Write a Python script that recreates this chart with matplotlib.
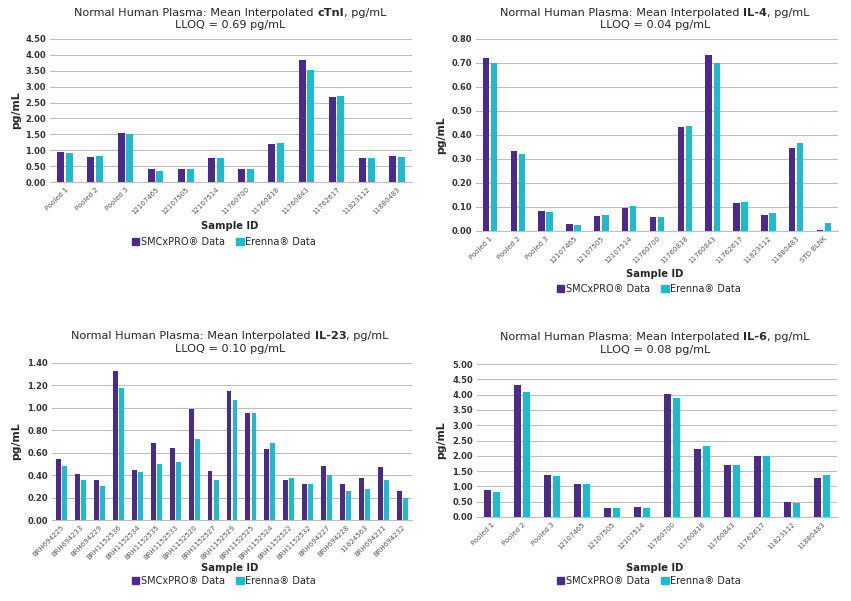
import matplotlib
matplotlib.use('Agg')
from matplotlib import pyplot as plt
from matplotlib.patches import Patch
import numpy as np

# ---- data ----
ctni_ids = ['Pooled 1', 'Pooled 2', 'Pooled 3', '12107465', '12107505', '12107514',
            '11760700', '11760818', '11760843', '11762617', '11823112', '11880483']
ctni_smc = [0.95, 0.78, 1.54, 0.42, 0.40, 0.76, 0.40, 1.20, 3.85, 2.68, 0.76, 0.82]
ctni_ere = [0.92, 0.82, 1.50, 0.36, 0.40, 0.75, 0.41, 1.23, 3.52, 2.72, 0.75, 0.80]

il4_ids = ctni_ids + ['STD BLNK']
il4_smc = [0.720, 0.335, 0.085, 0.030, 0.064, 0.095, 0.057, 0.435, 0.733, 0.116, 0.068, 0.347, 0.005]
il4_ere = [0.702, 0.320, 0.080, 0.027, 0.068, 0.104, 0.060, 0.438, 0.702, 0.122, 0.076, 0.367, 0.035]

il23_ids = ['BRH694225', 'BRH694233', 'BRH694229', 'BRH1152536', 'BRH1152534', 'BRH1152535',
            'BRH1152533', 'BRH1152520', 'BRH1152527', 'BRH1152529', 'BRH1152525', 'BRH1152524',
            'BRH1152522', 'BRH1152532', 'BRH694227', 'BRH694228', '11624563', 'BRH694231',
            'BRH694232']
il23_smc = [0.545, 0.41, 0.355, 1.325, 0.45, 0.685, 0.64, 0.99, 0.44, 1.15, 0.95, 0.635,
            0.36, 0.325, 0.48, 0.32, 0.375, 0.475, 0.255]
il23_ere = [0.485, 0.36, 0.305, 1.18, 0.43, 0.495, 0.52, 0.72, 0.36, 1.07, 0.955, 0.69,
            0.375, 0.325, 0.40, 0.255, 0.28, 0.355, 0.20]

il6_ids = ['Pooled 1', 'Pooled 2', 'Pooled 3', '12107465', '12107505', '12107514',
           '11760700', '11760818', '11760843', '11762617', '11823112', '11880483']
il6_smc = [0.88, 4.30, 1.36, 1.07, 0.31, 0.33, 4.02, 2.22, 1.70, 1.98, 0.49, 1.29]
il6_ere = [0.82, 4.10, 1.34, 1.08, 0.29, 0.31, 3.88, 2.32, 1.70, 1.99, 0.46, 1.36]

PURPLE = '#4B2A8A'
CYAN = '#1DBBCB'
TXT = '#262626'
W, H = 851, 601

fig = plt.figure(figsize=(W / 100, H / 100), dpi=100)


def px(x, y):
    return x / W, 1 - y / H


def add_panel(x0, x1, ytop, ybot, ids, smc, ere, ymax, step, ylab_x, bw=0.23):
    ax = fig.add_axes([x0 / W, 1 - ybot / H, (x1 - x0) / W, (ybot - ytop) / H])
    x = np.arange(len(ids))
    gap = 0.03
    ax.bar(x - bw / 2 - gap, smc, bw, color=PURPLE, zorder=3)
    ax.bar(x + bw / 2 + gap, ere, bw, color=CYAN, zorder=3)
    ax.set_xlim(-0.5, len(ids) - 0.5)
    ax.set_ylim(0, ymax)
    ax.set_yticks(np.arange(0, ymax + step / 2, step))
    ax.yaxis.set_major_formatter(matplotlib.ticker.FormatStrFormatter('%.2f'))
    ax.grid(axis='y', color='#BFBFBF', lw=0.8, zorder=0)
    for s in ['top', 'right', 'left']:
        ax.spines[s].set_visible(False)
    ax.spines['bottom'].set_color('#BFBFBF')
    ax.tick_params(axis='y', length=0, labelsize=6, labelcolor='#333333', pad=3)
    for lb in ax.get_yticklabels():
        lb.set_fontweight('semibold')
    ax.tick_params(axis='x', length=0, pad=3)
    ax.set_xticks(x)
    ax.set_xticklabels(ids, rotation=45, ha='right', rotation_mode='anchor',
                       fontsize=5, color='#595959')
    ax.set_ylabel('pg/mL', fontsize=7.8, fontweight='bold', color=TXT)
    # put the axis title where it sits in the reference (pixel x)
    ax.yaxis.set_label_coords((ylab_x - x0) / (x1 - x0), 0.5)
    return ax


def title_line(cx, y, parts, size=8.1):
    r = fig.canvas.get_renderer()
    texts = []
    for s, wt in parts:
        t = fig.text(0, 1 - y / H, s, fontsize=size, fontweight=wt, va='center',
                     color=TXT)
        texts.append(t)
    widths = [t.get_window_extent(r).width for t in texts]
    a = fig.text(0, 0, 'a a', fontsize=size)
    b = fig.text(0, 0, 'aa', fontsize=size)
    space = a.get_window_extent(r).width - b.get_window_extent(r).width
    a.remove()
    b.remove()
    total = sum(widths) + space
    x = cx - total / 2
    for i, (t, w) in enumerate(zip(texts, widths)):
        t.set_x(x / W)
        x += w
        if i == 0:
            x += space


def decorate(cx, t1, t2, bold, lloq, xlab_y, leg_y):
    title_line(cx, t1, [('Normal Human Plasma: Mean Interpolated', 'normal'),
                        (bold, 'bold'), (', pg/mL', 'normal')])
    fig.text(*px(cx, t2), 'LLOQ = %s pg/mL' % lloq, fontsize=8.1, ha='center',
             va='center', color=TXT)
    fig.text(*px(cx, xlab_y), 'Sample ID', fontsize=7.2, fontweight='bold',
             ha='center', va='center', color=TXT)
    handles = [Patch(color=PURPLE, label='SMCxPRO® Data'),
               Patch(color=CYAN, label='Erenna® Data')]
    fig.legend(handles=handles, loc='center', bbox_to_anchor=px(cx - 6, leg_y),
               ncol=2, frameon=False, fontsize=7, handlelength=0.75,
               handleheight=0.75, handletextpad=0.15, columnspacing=1.2,
               labelcolor=TXT)


add_panel(50, 412, 39, 182, ctni_ids, ctni_smc, ctni_ere, 4.5, 0.5, 21)
add_panel(476, 838, 39, 231, il4_ids, il4_smc, il4_ere, 0.8, 0.1, 446)
add_panel(52, 412, 363, 520, il23_ids, il23_smc, il23_ere, 1.4, 0.2, 21, bw=0.26)
add_panel(477, 837, 364, 517, il6_ids, il6_smc, il6_ere, 5.0, 0.5, 446)

decorate(230, 13, 25, 'cTnI', '0.69', 226, 242)
decorate(655, 13, 25, 'IL-4', '0.04', 274, 289)
decorate(230, 336, 349, 'IL-23', '0.10', 568, 581)
decorate(655, 337, 350, 'IL-6', '0.08', 568, 581)

fig.savefig('out.png', dpi=100, facecolor='white')
